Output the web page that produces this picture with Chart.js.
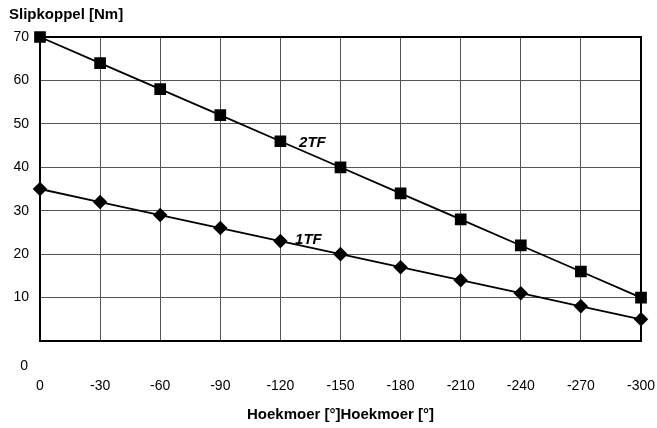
<!DOCTYPE html>
<html>
<head>
<meta charset="utf-8">
<script src="https://cdn.jsdelivr.net/npm/chart.js@4/dist/chart.umd.min.js"></script>
<style>
  html, body { margin: 0; padding: 0; background: #fff; }
  #wrap { width: 657px; height: 428px; }
</style>
</head>
<body>
<div id="wrap"><canvas id="chart"></canvas></div>
<script>
// hoek van de moer (graden) en slipkoppel per uitvoering
const hoek = [0, -30, -60, -90, -120, -150, -180, -210, -240, -270, -300];
const koppel2TF = [70, 64, 58, 52, 46, 40, 34, 28, 22, 16, 10];
const koppel1TF = [35, 32, 29, 26, 23, 20, 17, 14, 11, 8, 5];
const yTicks = [0, 10, 20, 30, 40, 50, 60, 70];

// tekstlabels bij de lijnen: [tekst, hoek, koppel]
const lijnLabels = [
    ['2TF', -136, 45.6],
    ['1TF', -134, 23.3]
];

const font = 'Liberation Sans, Arial, sans-serif';

const extraTekst = {
    id: 'extraTekst',
    afterDraw(chart) {
        const ctx = chart.ctx;
        const a = chart.chartArea;
        const x = chart.scales.x, y = chart.scales.y;
        ctx.save();
        // kader om het grafiekgebied
        ctx.strokeStyle = '#000';
        ctx.lineWidth = 2;
        ctx.strokeRect(a.left, a.top, a.right - a.left, a.bottom - a.top);

        ctx.fillStyle = '#000';
        ctx.font = 'bold 15px ' + font;
        ctx.textAlign = 'left';
        ctx.textBaseline = 'middle';
        ctx.fillText('Slipkoppel [Nm]', 9, 15);

        // nul-label staat los onder de as
        ctx.font = '14px ' + font;
        ctx.textAlign = 'right';
        ctx.fillText('0', 28, y.getPixelForValue(0) + 25);

        ctx.font = 'italic bold 15px ' + font;
        ctx.textAlign = 'center';
        lijnLabels.forEach(([t, h, k]) => {
            ctx.fillText(t, x.getPixelForValue(h), y.getPixelForValue(k));
        });
        ctx.restore();
    }
};

new Chart(document.getElementById('chart').getContext('2d'), {
    type: 'line',
    data: {
        datasets: [{
            label: '2TF',
            data: hoek.map((h, i) => ({ x: h, y: koppel2TF[i] })),
            borderColor: '#000',
            backgroundColor: '#000',
            borderWidth: 1.8,
            pointStyle: 'rect',
            pointRadius: 7,
            pointHoverRadius: 7,
            clip: false,
            tension: 0
        }, {
            label: '1TF',
            data: hoek.map((h, i) => ({ x: h, y: koppel1TF[i] })),
            borderColor: '#000',
            backgroundColor: '#000',
            borderWidth: 1.8,
            pointStyle: 'rectRot',
            pointRadius: 6,
            pointHoverRadius: 6,
            clip: false,
            tension: 0
        }]
    },
    options: {
        responsive: true,
        maintainAspectRatio: false,
        animation: false,
        layout: { padding: { top: 37, right: 16, left: 0, bottom: 4 } },
        plugins: {
            legend: { display: false },
            tooltip: { enabled: false }
        },
        scales: {
            x: {
                type: 'linear',
                reverse: true,
                min: -300,
                max: 0,
                afterBuildTicks: s => { s.ticks = hoek.map(v => ({ value: v })); },
                grid: { color: '#555', lineWidth: 1, drawTicks: false },
                border: { display: false },
                ticks: { color: '#000', font: { size: 14, family: font }, padding: 37, maxRotation: 0 },
                title: {
                    display: true,
                    text: 'Hoekmoer [°]Hoekmoer [°]',
                    color: '#000',
                    font: { size: 15, weight: 'bold', family: font },
                    padding: { top: 11, bottom: 0 }
                },
                afterFit: s => {
                    s.height = 83;
                    s.paddingLeft = 0;
                    s.paddingRight = 0;
                }
            },
            y: {
                min: 0,
                max: 70,
                afterBuildTicks: s => { s.ticks = yTicks.map(v => ({ value: v })); },
                grid: { color: '#555', lineWidth: 1, drawTicks: false },
                border: { display: false },
                ticks: {
                    color: '#000',
                    font: { size: 14, family: font },
                    padding: 11,
                    callback: v => v === 0 ? '' : v
                },
                afterFit: s => {
                    s.width = 40;
                    s.paddingTop = 0;
                    s.paddingBottom = 0;
                }
            }
        }
    },
    plugins: [extraTekst]
});
</script>
</body>
</html>
